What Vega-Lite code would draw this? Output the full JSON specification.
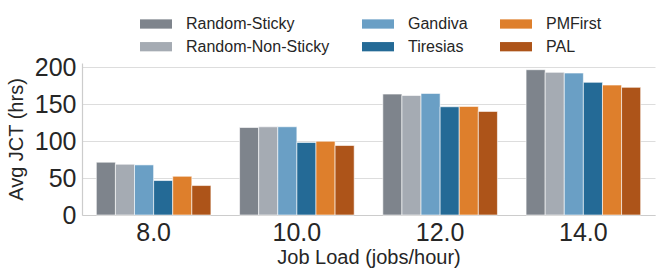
{
  "$schema": "https://vega.github.io/schema/vega-lite/v6.json",
  "autosize": {"type": "none"},
  "width": 573,
  "height": 152,
  "padding": {"left": 82, "top": 63, "right": 9, "bottom": 63},
  "background": "white",
  "config": {
    "font": "Liberation Sans",
    "view": {"stroke": null},
    "axis": {"labelColor": "#262626", "titleColor": "#262626", "labelFont": "Liberation Sans", "titleFont": "Liberation Sans", "titleFontWeight": "normal"}
  },
  "data": {
    "values": [
      {"load": "8.0", "method": "Random-Sticky", "jct": 71.6},
      {"load": "8.0", "method": "Random-Non-Sticky", "jct": 68.8},
      {"load": "8.0", "method": "Gandiva", "jct": 67.9},
      {"load": "8.0", "method": "Tiresias", "jct": 46.7},
      {"load": "8.0", "method": "PMFirst", "jct": 52.5},
      {"load": "8.0", "method": "PAL", "jct": 39.9},
      {"load": "10.0", "method": "Random-Sticky", "jct": 118.6},
      {"load": "10.0", "method": "Random-Non-Sticky", "jct": 119.5},
      {"load": "10.0", "method": "Gandiva", "jct": 119.6},
      {"load": "10.0", "method": "Tiresias", "jct": 98.3},
      {"load": "10.0", "method": "PMFirst", "jct": 100.0},
      {"load": "10.0", "method": "PAL", "jct": 94.2},
      {"load": "12.0", "method": "Random-Sticky", "jct": 163.9},
      {"load": "12.0", "method": "Random-Non-Sticky", "jct": 162.0},
      {"load": "12.0", "method": "Gandiva", "jct": 164.8},
      {"load": "12.0", "method": "Tiresias", "jct": 146.7},
      {"load": "12.0", "method": "PMFirst", "jct": 147.2},
      {"load": "12.0", "method": "PAL", "jct": 140.4},
      {"load": "14.0", "method": "Random-Sticky", "jct": 196.9},
      {"load": "14.0", "method": "Random-Non-Sticky", "jct": 193.3},
      {"load": "14.0", "method": "Gandiva", "jct": 192.4},
      {"load": "14.0", "method": "Tiresias", "jct": 179.8},
      {"load": "14.0", "method": "PMFirst", "jct": 176.1},
      {"load": "14.0", "method": "PAL", "jct": 173.0}
    ]
  },
  "mark": {"type": "bar", "stroke": "white", "strokeWidth": 0.6},
  "encoding": {
    "x": {
      "field": "load", "type": "ordinal",
      "sort": ["8.0", "10.0", "12.0", "14.0"],
      "scale": {"paddingInner": 0.2, "paddingOuter": 0.1},
      "axis": {
        "title": "Job Load (jobs/hour)", "titleFontSize": 20, "titlePadding": 2,
        "labelFontSize": 25, "labelAngle": 0, "labelPadding": 5,
        "ticks": false, "domainColor": "#cccccc", "domainWidth": 1.2, "grid": false
      }
    },
    "xOffset": {
      "field": "method", "type": "nominal",
      "sort": ["Random-Sticky", "Random-Non-Sticky", "Gandiva", "Tiresias", "PMFirst", "PAL"],
      "scale": {"paddingInner": 0, "paddingOuter": 0}
    },
    "y": {
      "field": "jct", "type": "quantitative",
      "scale": {"domain": [0, 206], "nice": false},
      "axis": {
        "title": "Avg JCT (hrs)", "titleFontSize": 20, "titlePadding": 8,
        "labelFontSize": 25, "labelPadding": 6, "values": [0, 50, 100, 150, 200],
        "ticks": false, "domainColor": "#cccccc", "domainWidth": 1.2,
        "gridColor": "#dddddd", "gridWidth": 1
      }
    },
    "color": {
      "field": "method", "type": "nominal",
      "scale": {
        "domain": ["Random-Sticky", "Random-Non-Sticky", "Gandiva", "Tiresias", "PMFirst", "PAL"],
        "range": ["#7e848c", "#a5abb3", "#6a9fc5", "#246a96", "#de7f2c", "#ad5419"]
      },
      "legend": {
        "title": null, "orient": "none", "legendX": 66, "legendY": -47,
        "columns": 3, "columnPadding": 32, "rowPadding": 6.7,
        "symbolType": "M-2,-0.58H2V0.58H-2Z", "symbolSize": 256, "symbolStrokeWidth": 0,
        "labelFontSize": 16, "labelColor": "#262626", "labelOffset": 22, "labelFont": "Liberation Sans"
      }
    }
  }
}
